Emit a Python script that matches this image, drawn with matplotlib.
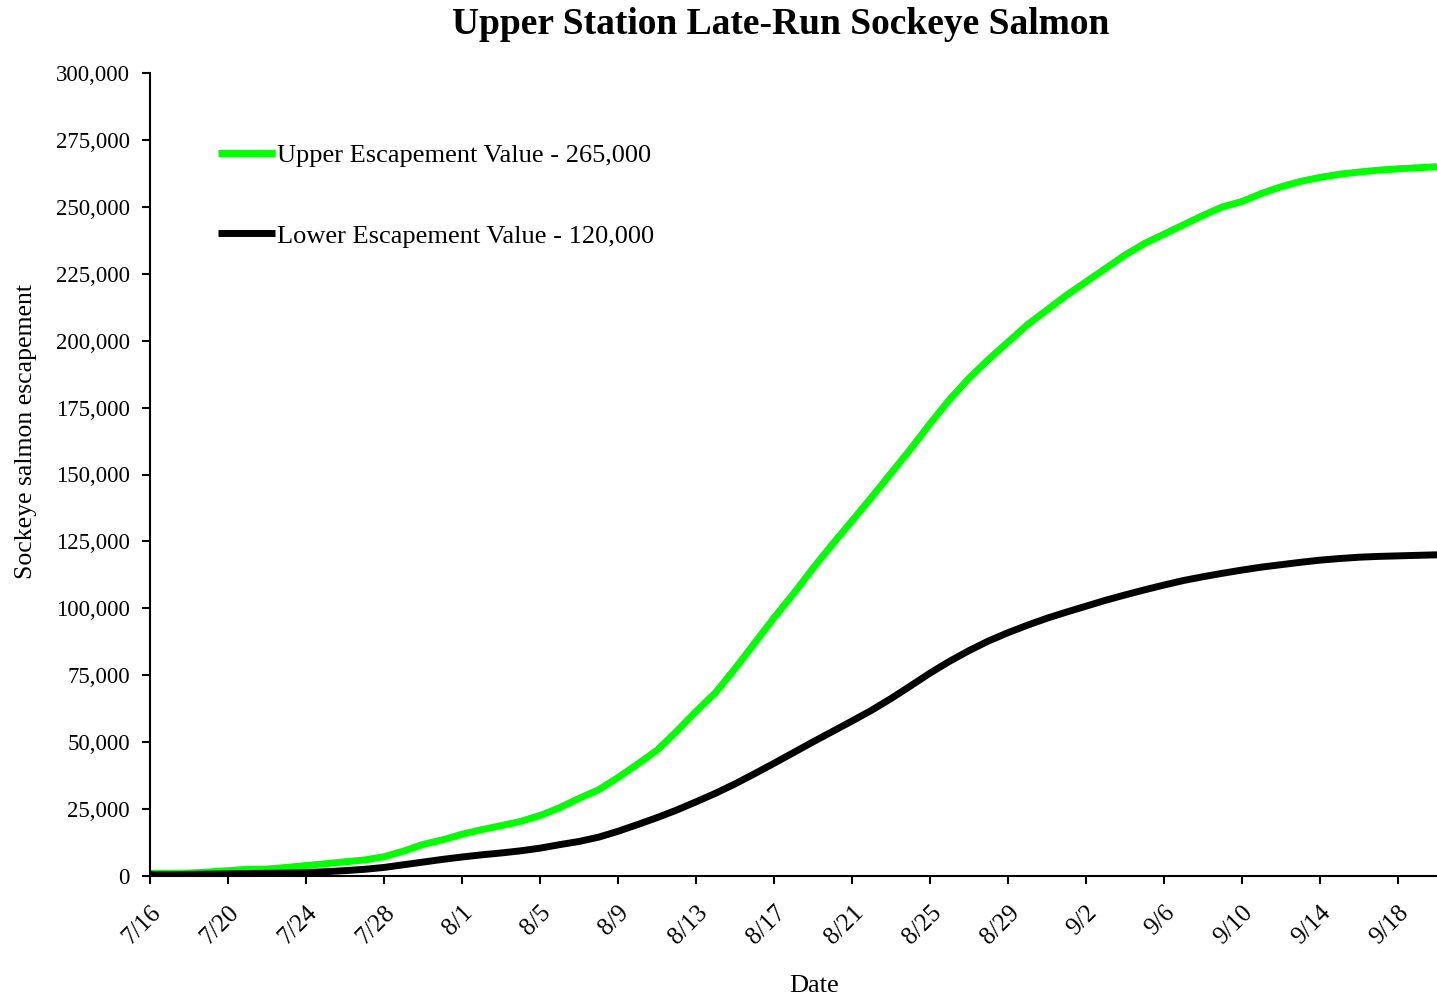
import numpy as np
import matplotlib
matplotlib.use('Agg')
import matplotlib.pyplot as plt
from matplotlib.ticker import FuncFormatter

plt.rcParams['font.family'] = ['Liberation Serif', 'DejaVu Serif']

# daily cumulative escapement goals, 7/16 .. 9/20
upper = [1000, 1000, 1100, 1500, 2000, 2500, 2600, 3200, 3900, 4600,
         5300, 6000, 7200, 9300, 11800, 13500, 15600, 17300, 18800, 20400,
         22600, 25500, 29000, 32200, 36800, 41800, 47000, 54000, 61500, 68500,
         77500, 87000, 96500, 105500, 115000, 124000, 132700, 141500, 150500, 159500,
         169000, 178000, 186000, 193000, 199500, 206000, 211500, 217000, 222000, 227000,
         232000, 236300, 239800, 243300, 246800, 250000, 252000, 255000, 257500, 259500,
         261000, 262200, 263000, 263700, 264200, 264600, 265000]
lower = [500, 500, 600, 700, 800, 900, 1000, 1100, 1300, 1600,
         2000, 2500, 3200, 4200, 5200, 6200, 7100, 7900, 8600, 9400,
         10400, 11700, 12900, 14500, 16700, 19200, 21800, 24600, 27700, 30900,
         34400, 38200, 42100, 46100, 50100, 54000, 57900, 61900, 66300, 71000,
         75800, 80200, 84200, 87800, 90900, 93700, 96300, 98600, 100800, 103000,
         105000, 106900, 108700, 110400, 111800, 113100, 114300, 115400, 116300, 117200,
         118000, 118600, 119100, 119400, 119600, 119800, 120000]
tick_labels = ['7/16', '7/20', '7/24', '7/28', '8/1', '8/5', '8/9', '8/13', '8/17',
               '8/21', '8/25', '8/29', '9/2', '9/6', '9/10', '9/14', '9/18']

x = np.arange(len(upper))

fig = plt.figure(figsize=(14.37, 9.99), dpi=100)
ax = fig.add_axes([150 / 1437, 1 - 876 / 999, 1 - 150 / 1437, (876 - 73) / 999])

ax.plot(x, upper, color='#00ff00', lw=5, solid_capstyle='butt',
        label='Upper Escapement Value - 265,000')
ax.plot(x, lower, color='black', lw=5, solid_capstyle='butt',
        label='Lower Escapement Value - 120,000')

ax.set_xlim(0, len(upper) - 1)
ax.set_ylim(0, 300000)
ax.set_yticks(np.arange(0, 300001, 25000))
ax.yaxis.set_major_formatter(FuncFormatter(lambda v, p: f'{int(v):,}'))
ax.set_xticks(np.arange(0, 4 * len(tick_labels), 4))
ax.set_xticklabels(tick_labels, rotation=45, ha='right', va='top', rotation_mode='anchor')

for s in ['top', 'right']:
    ax.spines[s].set_visible(False)
for s in ['left', 'bottom']:
    ax.spines[s].set_linewidth(1.5)
ax.tick_params(direction='out', length=5.5, width=1.5)
ax.tick_params(axis='y', labelsize=16.5, pad=9)
ax.tick_params(axis='x', labelsize=18, pad=13)

ax.set_ylabel('Sockeye salmon escapement', fontsize=18.5)
ax.yaxis.set_label_coords(-0.088, 0.554)
ax.set_xlabel('Date', fontsize=19)
ax.xaxis.set_label_coords(0.516, -0.123)

fig.text(0.5436, 1 - 24 / 999, 'Upper Station Late-Run Sockeye Salmon', ha='center', va='center',
         fontsize=27, fontweight='bold')

ax.legend(loc='upper left', bbox_to_anchor=(218 / 1437, 1 - 144 / 999),
          bbox_transform=fig.transFigure, frameon=False, fontsize=19,
          handlelength=2.16, handletextpad=0.08, labelspacing=2.15,
          borderpad=0, borderaxespad=0)

fig.savefig('out.png', dpi=100)
